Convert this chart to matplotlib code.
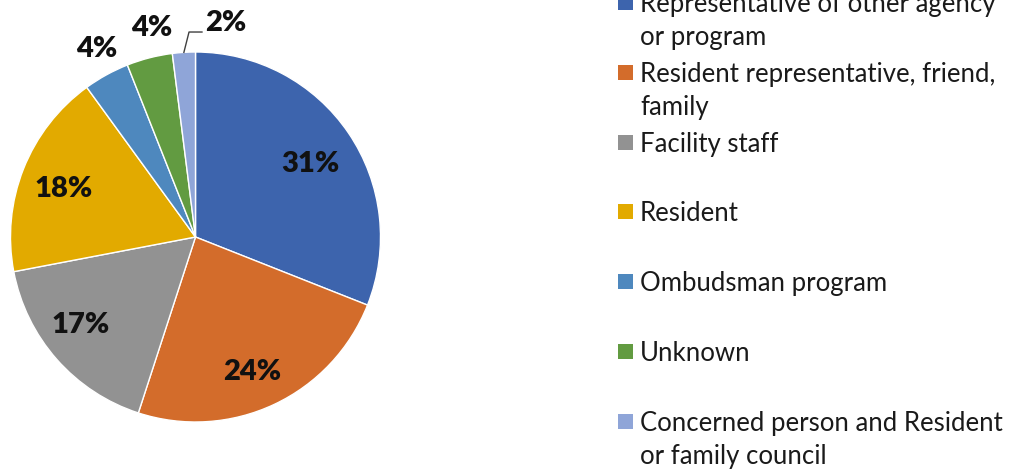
import matplotlib
matplotlib.use("Agg")
import matplotlib.pyplot as plt
import numpy as np

categories = [
    "Representative of other agency\nor program",
    "Resident representative, friend,\nfamily",
    "Facility staff",
    "Resident",
    "Ombudsman program",
    "Unknown",
    "Concerned person and Resident\nor family council",
]
values = [31, 24, 17, 18, 4, 4, 2]
colors = ["#3D64AD", "#D36C2B", "#929292", "#E2AA00", "#4E88BE", "#629B41", "#8FA5D8"]

W, H = 1011, 472
fig = plt.figure(figsize=(W / 100, H / 100), dpi=100)
fig.patch.set_facecolor("white")

cx, cy, R = 195.5, 237, 185
ax = fig.add_axes([(cx - R) / W, (H - cy - R) / H, 2 * R / W, 2 * R / H])

wedges, _ = ax.pie(values, colors=colors, startangle=90, counterclock=False,
                   radius=1, center=(0, 0), frame=True,
                   wedgeprops=dict(edgecolor="white", linewidth=1))
ax.set_xlim(-1, 1)
ax.set_ylim(-1, 1)
ax.axis("off")

font = "Lato"
dists = [0.735, 0.79, 0.785, 0.76, 1.15, 1.155, None]
angle_nudge = [-1.5, -2.5, -4, 1.5, -1, -2.5, 0]
for w, v, d, nud in zip(wedges, values, dists, angle_nudge):
    mid = np.deg2rad((w.theta1 + w.theta2) / 2 + nud)
    if d is not None:
        ax.text(d * np.cos(mid), d * np.sin(mid), f"{v}%", ha="center", va="center",
                fontsize=21, fontweight="heavy", family=font, color="#111111", clip_on=False)
    else:
        sx, sy = np.cos(mid), np.sin(mid)
        ax.plot([sx, -0.035, 0.035], [sy, 1.108, 1.108], color="#404040", lw=1, clip_on=False)
        ax.text(0.05, 1.157, f"{v}%", ha="left", va="center",
                fontsize=21, fontweight="heavy", family=font, color="#111111", clip_on=False)

# legend
y0, step = 2.5, 69.8
mk = 15
for i, (lab, col) in enumerate(zip(categories, colors)):
    yc = y0 + i * step
    fig.patches.append(plt.Rectangle((618 / W, 1 - (yc + mk / 2) / H), mk / W, mk / H,
                                     transform=fig.transFigure, facecolor=col, edgecolor="none"))
    for j, line in enumerate(lab.split("\n")):
        yb = yc + 9.5 + j * 33
        fig.text(640 / W, 1 - yb / H, line, ha="left", va="baseline",
                 fontsize=18.5, family=font, color="#1a1a1a")

fig.savefig("out.png", dpi=100, facecolor="white")
